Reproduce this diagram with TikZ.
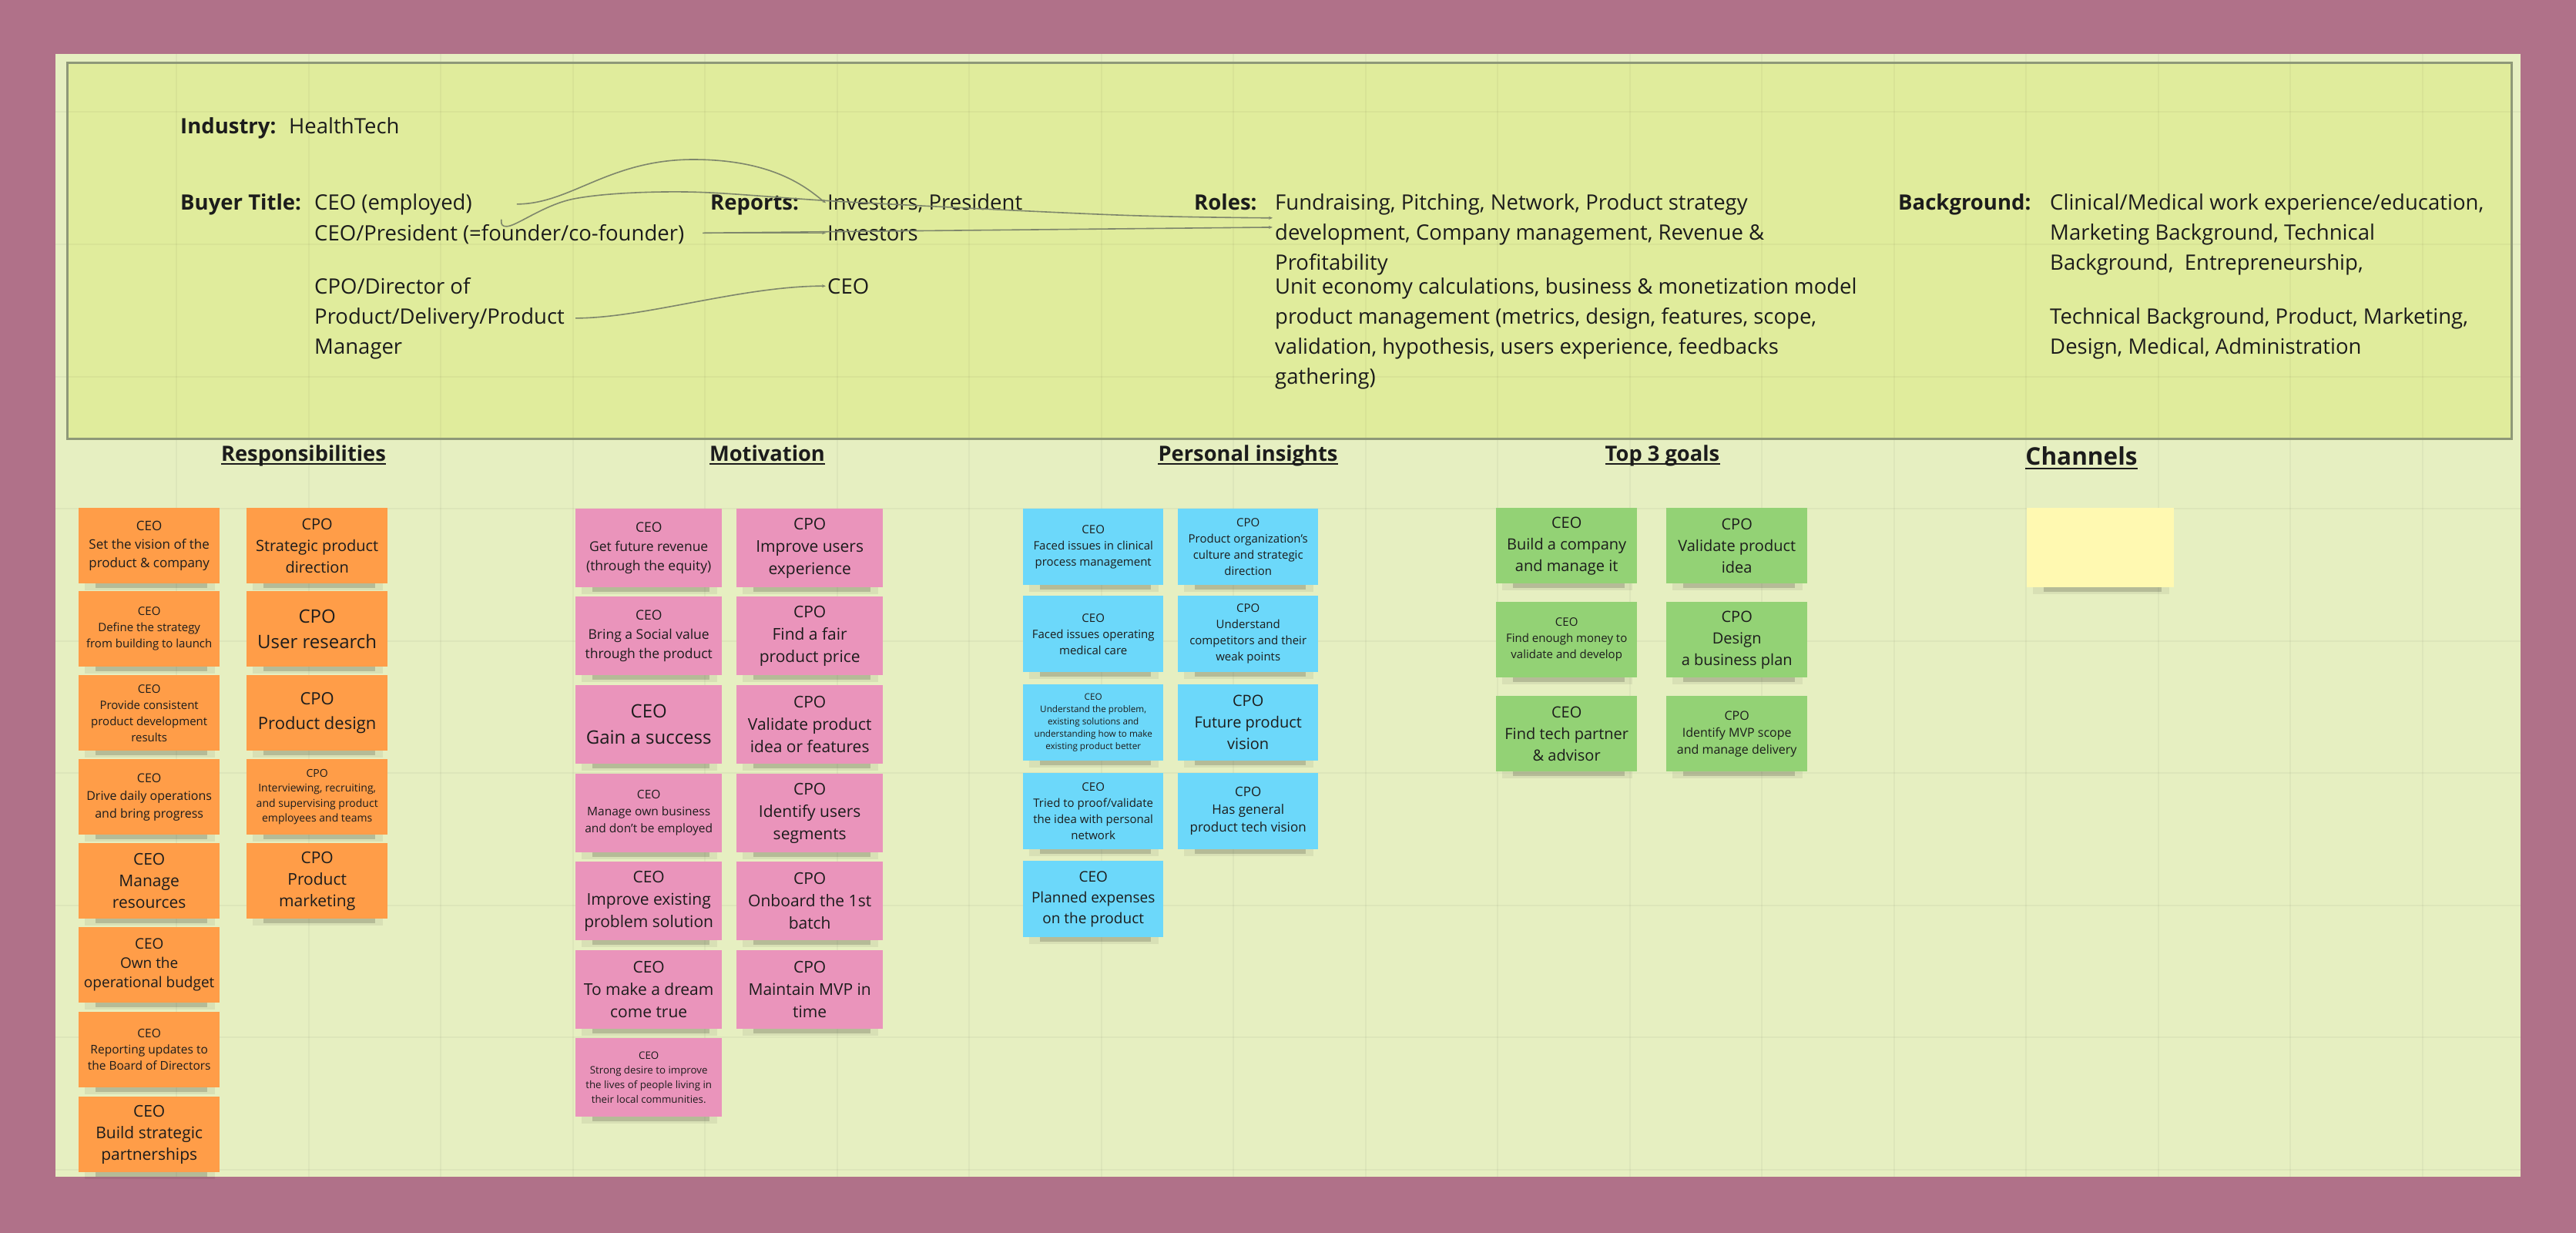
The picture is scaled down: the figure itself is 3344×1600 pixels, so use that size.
\documentclass[tikz,border=0pt]{standalone}
\usepackage{fontspec}
\setmainfont{Open Sans}
\usetikzlibrary{arrows.meta}
\definecolor{framec}{HTML}{B07189}
\definecolor{boardc}{HTML}{E6EFC1}
\definecolor{hdrfill}{HTML}{E0EC9C}
\definecolor{hdrline}{HTML}{8E9878}
\definecolor{txt}{HTML}{1C1C1C}
\definecolor{connc}{HTML}{7E866C}
\definecolor{orng}{HTML}{FF9D48}
\definecolor{pnk}{HTML}{EA94BB}
\definecolor{blu}{HTML}{6CD8FA}
\definecolor{grn}{HTML}{93D275}
\definecolor{ylw}{HTML}{FFF9B1}
\newcommand{\fsz}[2]{\fontsize{#1}{#2}\selectfont}
\newcommand{\stickynote}[9]{%
  \fill[black,opacity=0.06] (#2+8,#3+#5-2) rectangle (#2+#4-6,#3+#5+9);
  \fill[black,opacity=0.16] (#2+22,#3+#5-2) rectangle (#2+#4-16,#3+#5+6);
  \node[stick,fill=#6,minimum width=#4,minimum height=#5,font=\fsz{#7}{#8}] (#1) at (#2,#3) {#9};}
\begin{document}
\begin{tikzpicture}[x=1pt,y=-1pt,
  stick/.style={anchor=north west,inner sep=2pt,align=center,text=txt},
  hdr/.style={anchor=base west,inner sep=0pt,text=txt,font=\fsz{27.5}{39}},
  hdrb/.style={anchor=base west,inner sep=0pt,text=txt,font=\fsz{27.5}{39}\bfseries},
  sect/.style={anchor=base,inner sep=0pt,text=txt,font=\fsz{27.3}{32}\bfseries},
  uline/.style={draw=txt,line width=2},
  link/.style={draw=connc,line width=1.6,-{Stealth[length=5pt,width=4pt]}}]
\fill[framec] (0,0) rectangle (3344,1600);
\useasboundingbox (0,0) rectangle (3344,1600);
\fill[boardc] (72,70) rectangle (3272,1527);
\fill[hdrfill] (87,82) rectangle (3260,569);
\begin{scope}
\clip (72,70) rectangle (3272,1527);
\foreach \gx in {229,400.5,...,3272} \draw[black,opacity=0.035,line width=2] (\gx,70) -- (\gx,1527);
\foreach \gy in {145.5,317,...,1527} \draw[black,opacity=0.035,line width=2] (72,\gy) -- (3272,\gy);
\end{scope}
\draw[hdrline,line width=3] (87,82) rectangle (3260,569);

% header texts
\node[hdrb] (indl) at (234,173) {Industry:};
\node[hdr] (indv) at (375,173) {HealthTech};
\node[hdrb] (btl) at (234,272) {Buyer Title:};
\node[hdr] (bt1) at (408,272) {CEO (employed)};
\node[hdr] (bt2) at (408,312) {CEO/President (=founder/co-founder)};
\node[hdr] (bt3a) at (408,381) {CPO/Director of};
\node[hdr] (bt3b) at (408,420) {Product/Delivery/Product};
\node[hdr] (bt3c) at (408,459) {Manager};
\node[hdrb] (rpl) at (922,272) {Reports:};
\node[hdr] (rp1) at (1074,272) {Investors, President};
\node[hdr] (rp2) at (1074,312) {Investors};
\node[hdr] (rp3) at (1074,381) {CEO};
\node[hdrb] (rll) at (1550,272) {Roles:};
\node[hdr] (rl1) at (1655,272) {Fundraising, Pitching, Network, Product strategy};
\node[hdr] (rl2) at (1655,311) {development, Company management, Revenue \&};
\node[hdr] (rl3) at (1655,350) {Profitability};
\node[hdr] (rl4) at (1655,381) {Unit economy calculations, business \& monetization model};
\node[hdr] (rl5) at (1655,420) {product management (metrics, design, features, scope,};
\node[hdr] (rl6) at (1655,459) {validation, hypothesis, users experience, feedbacks};
\node[hdr] (rl7) at (1655,498) {gathering)};
\node[hdrb] (bgl) at (2464,272) {Background:};
\node[hdr] (bg1) at (2661,272) {Clinical/Medical work experience/education,};
\node[hdr] (bg2) at (2661,311) {Marketing Background, Technical};
\node[hdr] (bg3) at (2661,350) {Background,\ \ Entrepreneurship,};
\node[hdr] (bg4) at (2661,420) {Technical Background, Product, Marketing,};
\node[hdr] (bg5) at (2661,459) {Design, Medical, Administration};

% connectors
\coordinate (c1s) at ([xshift=58pt]bt1.east);
\coordinate (c2h) at ([xshift=243pt,yshift=6pt]bt2.north west);
\coordinate (c2s) at ([xshift=24pt]bt2.east);
\coordinate (e1) at ([xshift=-3pt,yshift=-4pt]rl1.south west);
\coordinate (e2) at ([xshift=-3pt,yshift=-5pt]rl2.north west);
\coordinate (c3s) at ([xshift=14pt]bt3b.east);
\draw[link] (c1s) .. controls +(70,0) and +(-110,0) .. (900,207) .. controls +(110,0) and +(-20,-15) .. ([xshift=-2pt]rp1.west);
\draw[link] plot[smooth,tension=0.55] coordinates {(c2h) (662,293) (745,258) (890,249) (1100,262) (1450,279) (e1)};
\draw[link] (c2s |- rp2.west) -- ([xshift=-2pt]rp2.west);
\draw[link] (c2s |- rp2.west) -- (e2);
\draw[link] (c3s) .. controls +(90,0) and +(-110,0) .. ([xshift=-2pt]rp3.west);

% section headings
\node[sect] (h1) at (394,598) {Responsibilities};
\node[sect] (h2) at (996,598) {Motivation};
\node[sect] (h3) at (1620,598) {Personal insights};
\node[sect] (h4) at (2158,598) {Top 3 goals};
\node[sect,font=\fsz{31.5}{36}\bfseries] (h5) at (2702,603) {Channels};
\foreach \h in {h1,h2,h3,h4} \draw[uline] ([yshift=-4pt]\h.base west) -- ([yshift=-4pt]\h.base east);
\draw[uline,line width=2.5] ([yshift=-5pt]h5.base west) -- ([yshift=-5pt]h5.base east);

% Responsibilities
\stickynote{r1}{102}{659}{183}{98}{orng}{17}{24}{CEO\\Set the vision of the\\product \& company}
\stickynote{r2}{102}{767}{183}{98}{orng}{15}{21}{CEO\\Define the strategy\\from building to launch}
\stickynote{r3}{102}{876}{183}{98}{orng}{15}{21}{CEO\\Provide consistent\\product development\\results}
\stickynote{r4}{102}{985}{183}{98}{orng}{16}{23}{CEO\\Drive daily operations\\and bring progress}
\stickynote{r5}{102}{1094}{183}{98}{orng}{21}{28}{CEO\\Manage\\resources}
\stickynote{r6}{102}{1203}{183}{98}{orng}{19}{25}{CEO\\Own the\\operational budget}
\stickynote{r7}{102}{1313}{183}{98}{orng}{15.5}{21}{CEO\\Reporting updates to\\the Board of Directors}
\stickynote{r8}{102}{1423}{183}{98}{orng}{21}{28}{CEO\\Build strategic\\partnerships}
\stickynote{r9}{320}{659}{183}{98}{orng}{20}{28}{CPO\\Strategic product\\direction}
\stickynote{r10}{320}{767}{183}{98}{orng}{24}{33}{CPO\\User research}
\stickynote{r11}{320}{876}{183}{98}{orng}{22}{32}{CPO\\Product design}
\stickynote{r12}{320}{985}{183}{98}{orng}{14}{19.5}{CPO\\Interviewing, recruiting,\\and supervising product\\employees and teams}
\stickynote{r13}{320}{1094}{183}{98}{orng}{21}{28}{CPO\\Product\\marketing}

% Motivation
\stickynote{m1}{747}{660}{190}{102}{pnk}{17.5}{25}{CEO\\Get future revenue\\(through the equity)}
\stickynote{m2}{747}{774}{190}{102}{pnk}{17.5}{25}{CEO\\Bring a Social value\\through the product}
\stickynote{m3}{747}{889}{190}{102}{pnk}{24}{34}{CEO\\Gain a success}
\stickynote{m4}{747}{1004}{190}{102}{pnk}{15.5}{22}{CEO\\Manage own business\\and don't be employed}
\stickynote{m5}{747}{1118}{190}{102}{pnk}{21}{29}{CEO\\Improve existing\\problem solution}
\stickynote{m6}{747}{1233}{190}{102}{pnk}{21}{29}{CEO\\To make a dream\\come true}
\stickynote{m7}{747}{1347}{190}{102}{pnk}{13.3}{19}{CEO\\Strong desire to improve\\the lives of people living in\\their local communities.}
\stickynote{m8}{956}{660}{190}{102}{pnk}{21}{29}{CPO\\Improve users\\experience}
\stickynote{m9}{956}{774}{190}{102}{pnk}{21}{29}{CPO\\Find a fair\\product price}
\stickynote{m10}{956}{889}{190}{102}{pnk}{21}{29}{CPO\\Validate product\\idea or features}
\stickynote{m11}{956}{1004}{190}{102}{pnk}{21}{29}{CPO\\Identify users\\segments}
\stickynote{m12}{956}{1118}{190}{102}{pnk}{21}{29}{CPO\\Onboard the 1st\\batch}
\stickynote{m13}{956}{1233}{190}{102}{pnk}{21}{29}{CPO\\Maintain MVP in\\time}

% Personal insights
\stickynote{p1}{1328}{660}{182}{99}{blu}{15}{21}{CEO\\Faced issues in clinical\\process management}
\stickynote{p2}{1328}{773}{182}{99}{blu}{15}{21}{CEO\\Faced issues operating\\medical care}
\stickynote{p3}{1328}{888}{182}{99}{blu}{11.7}{16}{CEO\\Understand the problem,\\existing solutions and\\understanding how to make\\existing product better}
\stickynote{p4}{1328}{1003}{182}{99}{blu}{15}{21}{CEO\\Tried to proof/validate\\the idea with personal\\network}
\stickynote{p5}{1328}{1117}{182}{99}{blu}{19}{27}{CEO\\Planned expenses\\on the product}
\stickynote{p6}{1529}{660}{182}{99}{blu}{15}{21}{CPO\\Product organization’s\\culture and strategic\\direction}
\stickynote{p7}{1529}{773}{182}{99}{blu}{15}{21}{CPO\\Understand\\competitors and their\\weak points}
\stickynote{p8}{1529}{888}{182}{99}{blu}{20}{28}{CPO\\Future product\\vision}
\stickynote{p9}{1529}{1003}{182}{99}{blu}{17}{23}{CPO\\Has general\\product tech vision}

% Top 3 goals
\stickynote{g1}{1942}{659}{183}{98}{grn}{20}{28}{CEO\\Build a company\\and manage it}
\stickynote{g2}{1942}{781}{183}{98}{grn}{15}{21}{CEO\\Find enough money to\\validate and develop}
\stickynote{g3}{1942}{903}{183}{98}{grn}{20}{28}{CEO\\Find tech partner\\\& advisor}
\stickynote{g4}{2163}{659}{183}{98}{grn}{20}{28}{CPO\\Validate product\\idea}
\stickynote{g5}{2163}{781}{183}{98}{grn}{20}{28}{CPO\\Design\\a business plan}
\stickynote{g6}{2163}{903}{183}{98}{grn}{16}{22}{CPO\\Identify MVP scope\\and manage delivery}

% Channels
\stickynote{ch1}{2631}{659}{191}{103}{ylw}{16}{22}{}
\end{tikzpicture}
\end{document}
